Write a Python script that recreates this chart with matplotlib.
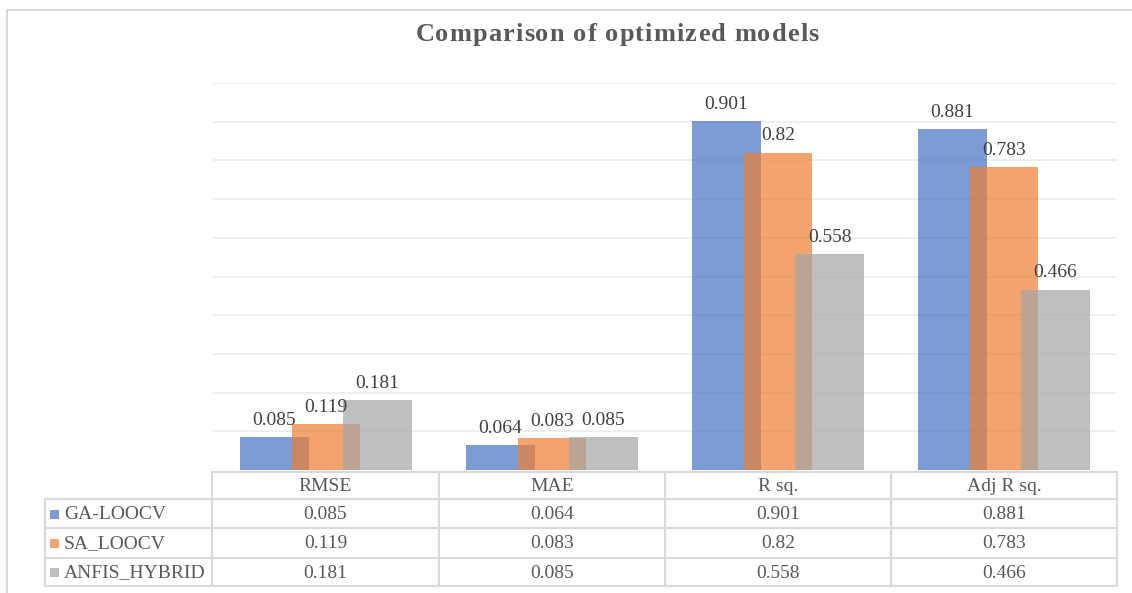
import matplotlib
matplotlib.use("Agg")
import matplotlib.pyplot as plt
import numpy as np

plt.rcParams['font.family'] = ['Liberation Serif', 'DejaVu Serif']

title = "Comparison of optimized models"
categories = ["RMSE", "MAE", "R sq.", "Adj R sq."]
series_names = ["GA-LOOCV", "SA_LOOCV", "ANFIS_HYBRID"]
ga_loocv = [0.085, 0.064, 0.901, 0.881]
sa_loocv = [0.119, 0.083, 0.82, 0.783]
anfis_hybrid = [0.181, 0.085, 0.558, 0.466]
series_values = [ga_loocv, sa_loocv, anfis_hybrid]
value_labels = [["0.085", "0.064", "0.901", "0.881"],
                ["0.119", "0.083", "0.82", "0.783"],
                ["0.181", "0.085", "0.558", "0.466"]]
colors = ["#4472C4", "#ED7D31", "#A5A5A5"]

W, H = 1132, 593
fig = plt.figure(figsize=(W / 100, H / 100), dpi=100)
fig.patch.set_facecolor("white")

# main plot axes (pixel geometry)
left_px, right_px, base_px, top_px = 213, 1117, 470, 83
ax = fig.add_axes([left_px / W, (H - base_px) / H,
                   (right_px - left_px) / W, (base_px - top_px) / H])
ax.set_xlim(0, len(categories))
ax.set_ylim(0, 1.0)
for s in ax.spines.values():
    s.set_visible(False)
ax.set_xticks([])
ax.set_yticks(np.arange(0.1, 1.01, 0.1))
ax.yaxis.grid(True, color="#EFEFEF", linewidth=1.4)
ax.tick_params(axis="y", length=0, labelleft=False)
ax.set_axisbelow(True)

x = np.arange(len(categories)) + 0.5
width = 0.305
step = 0.228
for i, (vals, col) in enumerate(zip(series_values, colors)):
    pos = x + (i - 1) * step
    ax.bar(pos, vals, width=width, color=col, alpha=0.7,
           linewidth=0, zorder=2 + i)
    for p, v, lab in zip(pos, vals, value_labels[i]):
        ax.annotate(lab, (p, v), xytext=(0, 6), textcoords="offset points",
                    ha="center", va="bottom", fontsize=14, color="#404040",
                    zorder=10)

# overlay axes for title, frame and data table
ov = fig.add_axes([0, 0, 1, 1], zorder=-1)
ov.set_xlim(0, W)
ov.set_ylim(H, 0)
ov.axis("off")

border = "#D9D9D9"
ov.plot([7, W], [10, 10], color=border, lw=1.5)
ov.plot([7, 7], [10, H], color=border, lw=1.5)

# letter-spaced bold title
renderer = fig.canvas.get_renderer()
t_size = 19
spacing = 1.1
probe = fig.text(0, 0, "", fontsize=t_size, fontweight="bold")
def prefix_width(s):
    if not s:
        return 0.0
    probe.set_text(s)
    return probe.get_window_extent(renderer).width
offsets = [prefix_width(title[:k]) for k in range(len(title))]
full_w = prefix_width(title)
probe.remove()
total = full_w + spacing * (len(title) - 1)
start = 617 - total / 2
for k, ch in enumerate(title):
    if ch == " ":
        continue
    px = start + offsets[k] + spacing * k
    fig.text(px / W, 1 - 41 / H, ch, ha="left", va="baseline",
             fontsize=t_size, fontweight="bold", color="#595959")

# data table
col_edges = [212, 439, 665, 891, 1117]
row_edges = [472, 499, 528, 558, 586]
label_left = 45
tc = "#D9D9D9"
lw = 1.5
ov.plot([col_edges[0], col_edges[-1]], [row_edges[0]] * 2, color=tc, lw=lw)
for r in row_edges[1:]:
    ov.plot([label_left, col_edges[-1]], [r, r], color=tc, lw=lw)
ov.plot([label_left, label_left], [row_edges[1], row_edges[-1]], color=tc, lw=lw)
for c in col_edges:
    ov.plot([c, c], [row_edges[0], row_edges[-1]], color=tc, lw=lw)

txt_col = "#595959"
for j, cat in enumerate(categories):
    cx = (col_edges[j] + col_edges[j + 1]) / 2
    ov.text(cx, (row_edges[0] + row_edges[1]) / 2 + 1, cat, ha="center",
            va="center", fontsize=14, color=txt_col)
for i, name in enumerate(series_names):
    cy = (row_edges[i + 1] + row_edges[i + 2]) / 2 + 1
    ov.add_patch(plt.Rectangle((50, cy - 5), 9, 9, color=colors[i], alpha=0.7,
                               lw=0))
    ov.text(64, cy, name, ha="left", va="center", fontsize=14, color=txt_col)
    for j in range(len(categories)):
        cx = (col_edges[j] + col_edges[j + 1]) / 2
        ov.text(cx, cy, value_labels[i][j], ha="center", va="center",
                fontsize=14, color=txt_col)

fig.savefig("out.png", dpi=100, facecolor="white")
